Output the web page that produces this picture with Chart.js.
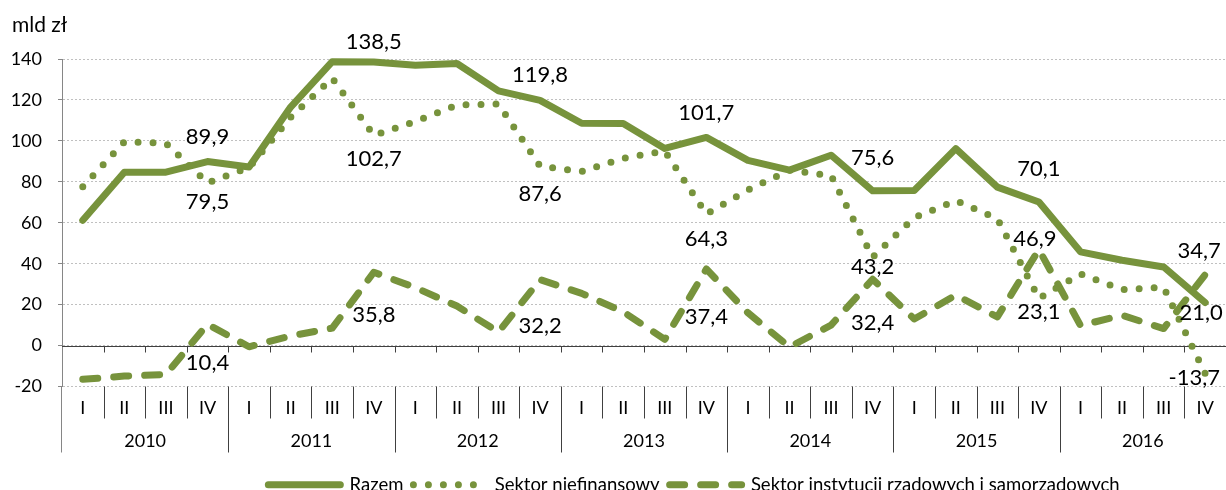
<!DOCTYPE html>
<html lang="pl">
<head>
<meta charset="utf-8">
<title>mld zł</title>
<script src="https://cdn.jsdelivr.net/npm/chart.js@4.4.1/dist/chart.umd.min.js"></script>
<style>
html, body { margin: 0; padding: 0; background: #fff; overflow: hidden; }
#wrap { width: 1226px; height: 505px; }
</style>
</head>
<body>
<div id="wrap"><canvas id="lineChart" width="1226" height="505"></canvas></div>
<script>
const quarters = ["I","II","III","IV","I","II","III","IV","I","II","III","IV","I","II","III","IV",
                  "I","II","III","IV","I","II","III","IV","I","II","III","IV"];
const years = ["2010","2011","2012","2013","2014","2015","2016"];

const razem = [61.2, 84.7, 84.7, 89.9, 87.2, 116.5, 138.7, 138.5, 137.0, 137.8, 124.4, 119.8,
               108.6, 108.5, 96.3, 101.7, 90.5, 85.7, 93.0, 75.6, 75.8, 96.2, 77.4, 70.1,
               45.8, 41.7, 38.4, 21.0];
const niefinansowy = [77.6, 99.6, 98.8, 79.5, 87.0, 111.5, 130.6, 102.7, 109.5, 117.5, 118.0, 87.6,
                      85.0, 91.5, 95.0, 64.3, 76.0, 85.7, 83.0, 43.2, 62.5, 70.8, 62.0, 23.1,
                      35.0, 27.3, 28.5, -13.7];
const rzadowy = [-16.5, -14.9, -14.1, 10.4, -0.6, 4.7, 8.5, 35.8, 28.3, 19.3, 6.6, 32.2,
                 25.5, 16.5, 3.0, 37.4, 16.0, -0.7, 10.0, 32.4, 13.0, 24.6, 14.0, 46.9,
                 9.8, 14.8, 8.3, 34.7];

// points that carry a value label (IV quarter of every year)
const labelledPoints = [3, 7, 11, 15, 19, 23, 27];

const green = "#77933c";

// [dx, dy] nudges of the value labels, per series, in labelledPoints order
const labelShift = [
  [[0,-25],[0,-20],[0,-25],[0,-24],[0,-33],[0,-33],[-4,10]],
  [[0,19],[0,24],[0,28],[0,25],[0,10],[0,14],[-11,4]],
  [[0,39],[0,43],[0,46],[0,48],[0,44],[-4,-11],[-6,-24]]
];

const fmt = v => v.toFixed(1).replace(".", ",");

const extras = {
  id: "extras",
  afterLayout(chart) {
    // legend in the original sits right of centre
    const lg = chart.legend;
    lg.left += 75; lg.right += 75;
  },
  beforeDatasetsDraw(chart) {
    const {ctx, chartArea, scales: {x, y}} = chart;
    const y0 = Math.round(y.getPixelForValue(0)) + 0.5;
    const step = x.getPixelForValue(1) - x.getPixelForValue(0);
    ctx.save();
    ctx.strokeStyle = "#404040";
    ctx.lineWidth = 1;
    ctx.beginPath();
    ctx.moveTo(chartArea.left, y0);
    ctx.lineTo(chartArea.right, y0);
    for (let i = 1; i <= quarters.length; i++) {
      const px = Math.round(x.getPixelForValue(i) - step / 2) + 0.5;
      ctx.moveTo(px, y0);
      ctx.lineTo(px, y0 + 6);
    }
    ctx.stroke();
    ctx.restore();
  },
  afterDraw(chart) {
    const {ctx, chartArea, scales: {x}} = chart;
    const step = x.getPixelForValue(1) - x.getPixelForValue(0);
    const b = chartArea.bottom;
    ctx.save();
    // category dividers under the plot
    ctx.strokeStyle = "#404040";
    ctx.lineWidth = 1;
    ctx.beginPath();
    for (let i = 1; i <= quarters.length; i++) {
      const px = Math.round(x.getPixelForValue(i) - step / 2) + 0.5;
      const long = i % 4 === 0;
      ctx.moveTo(px, b);
      ctx.lineTo(px, b + (long ? 66 : 32));
    }
    ctx.stroke();
    ctx.strokeStyle = "#868686";
    ctx.beginPath();
    ctx.moveTo(Math.round(chartArea.left) - 0.5, b);
    ctx.lineTo(Math.round(chartArea.left) - 0.5, b + 66);
    ctx.stroke();

    // unit
    ctx.fillStyle = "#000";
    ctx.font = "21px Lato";
    ctx.textAlign = "left";
    ctx.textBaseline = "alphabetic";
    ctx.fillText("mld zł", 12, 32);

    // value labels
    ctx.font = "22px Lato";
    ctx.textAlign = "center";
    ctx.textBaseline = "middle";
    chart.data.datasets.forEach((ds, d) => {
      const meta = chart.getDatasetMeta(d);
      labelledPoints.forEach((idx, k) => {
        const pt = meta.data[idx];
        const [dx, dy] = labelShift[d][k];
        ctx.fillText(fmt(ds.data[idx]), pt.x + dx, pt.y + dy);
      });
    });
    ctx.restore();
  }
};

function createChart() {
  Chart.defaults.font.family = "Lato";
  Chart.defaults.color = "#000";
  const ctx = document.getElementById("lineChart").getContext("2d");
  new Chart(ctx, {
    type: "line",
    data: {
      labels: quarters,
      datasets: [
        {
          label: "Razem",
          data: razem,
          borderColor: green,
          backgroundColor: green,
          borderWidth: 7,
          borderCapStyle: "round",
          borderJoinStyle: "round",
          pointRadius: 0,
          tension: 0
        },
        {
          label: "Sektor niefinansowy",
          data: niefinansowy,
          borderColor: green,
          backgroundColor: green,
          borderWidth: 7,
          borderDash: [0, 15],
          borderCapStyle: "round",
          borderJoinStyle: "round",
          pointRadius: 0,
          tension: 0
        },
        {
          label: "Sektor instytucji rządowych i samorządowych",
          data: rzadowy,
          borderColor: green,
          backgroundColor: green,
          borderWidth: 7,
          borderDash: [15, 16],
          borderCapStyle: "round",
          borderJoinStyle: "round",
          pointRadius: 0,
          tension: 0
        }
      ]
    },
    options: {
      responsive: false,
      animation: false,
      clip: false,
      layout: { padding: { top: 59, left: 12, right: 0, bottom: 1 } },
      scales: {
        x: {
          type: "category",
          offset: true,
          grid: { display: false, drawTicks: false },
          border: { display: false },
          ticks: { padding: 11, font: { size: 18 }, maxRotation: 0, autoSkip: false },
          afterFit(s) { s.height = 28; }
        },
        x2: {
          type: "category",
          labels: years,
          position: "bottom",
          offset: true,
          grid: { display: false, drawTicks: false },
          border: { display: false },
          ticks: { padding: 16, font: { size: 18 }, maxRotation: 0, autoSkip: false },
          afterFit(s) { s.height = 51; }
        },
        y: {
          min: -20,
          max: 140,
          ticks: { stepSize: 20, padding: 16, font: { size: 18 } },
          grid: { color: "#c0c0c0", lineWidth: 1, tickLength: 4, tickColor: "#868686", tickBorderDash: [] },
          border: { color: "#868686", dash: [2, 2] },
          afterFit(s) { s.width = 50; }
        }
      },
      plugins: {
        title: { display: false },
        tooltip: { enabled: false },
        legend: {
          display: true,
          position: "bottom",
          labels: {
            usePointStyle: true,
            pointStyleWidth: 72,
            padding: 10,
            font: { size: 18.5 },
            color: "#000",
            generateLabels(chart) {
              return chart.data.datasets.map((ds, i) => ({
                text: ds.label,
                fillStyle: ds.borderColor,
                strokeStyle: ds.borderColor,
                lineWidth: ds.borderWidth,
                lineDash: ds.borderDash || [],
                lineCap: "round",
                pointStyle: "line",
                fontColor: "#000",
                datasetIndex: i,
                hidden: false
              }));
            }
          }
        }
      }
    },
    plugins: [extras]
  });
}

window.addEventListener("load", createChart);
</script>
</body>
</html>
